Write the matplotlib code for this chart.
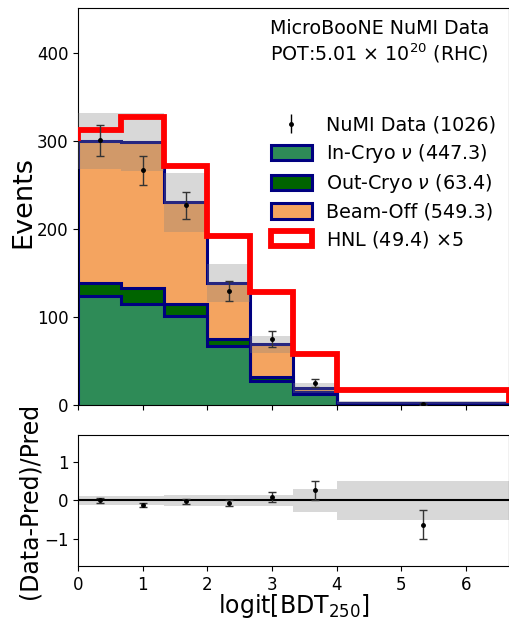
import numpy as np
import matplotlib
matplotlib.use("Agg")
import matplotlib.pyplot as plt
from matplotlib.patches import Patch

# Binning in logit[BDT_250]
bin_edges = [0.0, 0.667, 1.333, 2.0, 2.667, 3.333, 4.0, 6.667]

# Stacked predictions (events per bin)
in_cryo = [123.5, 115.0, 101.0, 67.0, 27.0, 12.0, 1.8]
out_cryo = [15.0, 18.0, 14.0, 8.5, 5.0, 2.4, 0.5]
beam_off = [162.0, 166.0, 115.5, 63.0, 37.0, 5.4, 0.4]

# Signal (drawn scaled by hnl_scale on top of the prediction)
hnl = [2.4, 5.6, 8.2, 10.8, 12.0, 7.6, 2.8]
hnl_scale = 5

# Observed data
data = [301, 267, 227, 130, 75, 25, 1]

# Fractional systematic uncertainty on the total prediction
sys_frac = [0.105, 0.11, 0.145, 0.155, 0.14, 0.29, 0.50]

edges = np.array(bin_edges)
centers = 0.5 * (edges[:-1] + edges[1:])
widths = np.diff(edges)
in_c = np.array(in_cryo)
out_c = np.array(out_cryo)
boff = np.array(beam_off)
pred = in_c + out_c + boff
dat = np.array(data, dtype=float)
sys_err = pred * np.array(sys_frac)

fig = plt.figure(figsize=(5.10, 6.19), dpi=100)
W, H = 510.0, 619.0
ax1 = fig.add_axes([78 / W, 1 - 405 / H, 431 / W, 397 / H])
ax2 = fig.add_axes([78 / W, 1 - 566 / H, 431 / W, 131 / H])

col_in = "#2e8b57"
col_out = "#006400"
col_boff = "#f4a460"
edge = "#000080"
lw_stack = 2.2
lw_sig = 4.2

# Stacked histograms with navy step outlines
layers = [(in_c, col_in), (out_c, col_out), (boff, col_boff)]
bottom = np.zeros_like(pred)
for vals, col in layers:
    ax1.hist(centers, bins=edges, weights=vals, bottom=bottom,
             histtype="stepfilled", color=col, lw=0, zorder=1)
    ax1.hist(centers, bins=edges, weights=vals, bottom=bottom,
             histtype="step", color=edge, lw=lw_stack, zorder=2)
    bottom = bottom + vals

# Systematic band on total prediction
ax1.bar(edges[:-1], 2 * sys_err, bottom=pred - sys_err, width=widths,
        align="edge", color="grey", alpha=0.3, lw=0, zorder=3)

# Scaled signal stacked on the prediction
ax1.hist(centers, bins=edges, weights=hnl_scale * np.array(hnl), bottom=pred,
         histtype="step", color="red", lw=lw_sig, zorder=4)

# Data points
ax1.errorbar(centers, dat, yerr=np.sqrt(dat), fmt="o", ms=2.5, color="black",
             ecolor="#333333", elinewidth=1, capsize=3, capthick=1, zorder=5)

ax1.set_xlim(edges[0], edges[-1])
ax1.set_ylim(0, 1.5 * dat.max())
ax1.set_yticks([0, 100, 200, 300, 400])
ax1.set_xticks(range(0, 7))
ax1.tick_params(labelbottom=False, labelsize=12)
ax1.set_ylabel("Events", fontsize=19.5, va="center")
ax1.yaxis.set_label_coords((23 - 78) / 431, (405 - 202) / 397)

ax1.text(0.445, 0.972, "MicroBooNE NuMI Data\nPOT:5.01 $\\times$ 10$^{20}$ (RHC)",
         transform=ax1.transAxes, ha="left", va="top", fontsize=13.7)

handles = [
    ax1.errorbar([], [], yerr=[], fmt="o", ms=2.5, color="black",
                 ecolor="black", elinewidth=1, capsize=3),
    Patch(facecolor=col_in, edgecolor=edge, lw=lw_stack),
    Patch(facecolor=col_out, edgecolor=edge, lw=lw_stack),
    Patch(facecolor=col_boff, edgecolor=edge, lw=lw_stack),
    Patch(facecolor="white", edgecolor="red", lw=lw_sig),
]
labels = [
    f"NuMI Data ({int(dat.sum())})",
    f"In-Cryo $\\nu$ ({in_c.sum():.1f})",
    f"Out-Cryo $\\nu$ ({out_c.sum():.1f})",
    f"Beam-Off ({boff.sum():.1f})",
    f"HNL ({np.sum(hnl):.1f}) $\\times${hnl_scale}",
]
ax1.legend(handles, labels, loc="upper left", bbox_to_anchor=(0.429, 0.748),
           borderaxespad=0, frameon=False, fontsize=13.8, handlelength=2.15,
           handleheight=0.85, labelspacing=0.38, handletextpad=0.75)

# Ratio panel
ratio = dat / pred - 1
ratio_err = np.sqrt(dat) / pred
ax2.bar(edges[:-1], 2 * np.array(sys_frac), bottom=-np.array(sys_frac),
        width=widths, align="edge", color="grey", alpha=0.3, lw=0, zorder=1)
ax2.axhline(0, color="black", lw=1.5, zorder=2)
ax2.errorbar(centers, ratio, yerr=ratio_err, fmt="o", ms=2.5, color="black",
             ecolor="#333333", elinewidth=1, capsize=3, capthick=1, zorder=3)
ax2.set_xlim(edges[0], edges[-1])
ax2.set_ylim(-1.7, 1.7)
ax2.set_yticks([-1, 0, 1])
ax2.set_xticks(range(0, 7))
ax2.tick_params(labelsize=12)
ax2.set_xlabel("logit[BDT$_{250}$]", fontsize=17, labelpad=-1)
ax2.set_ylabel("(Data-Pred)/Pred", fontsize=17, va="center")
ax2.yaxis.set_label_coords((30 - 78) / 431, 0.5)

fig.savefig("out.png", dpi=100)
